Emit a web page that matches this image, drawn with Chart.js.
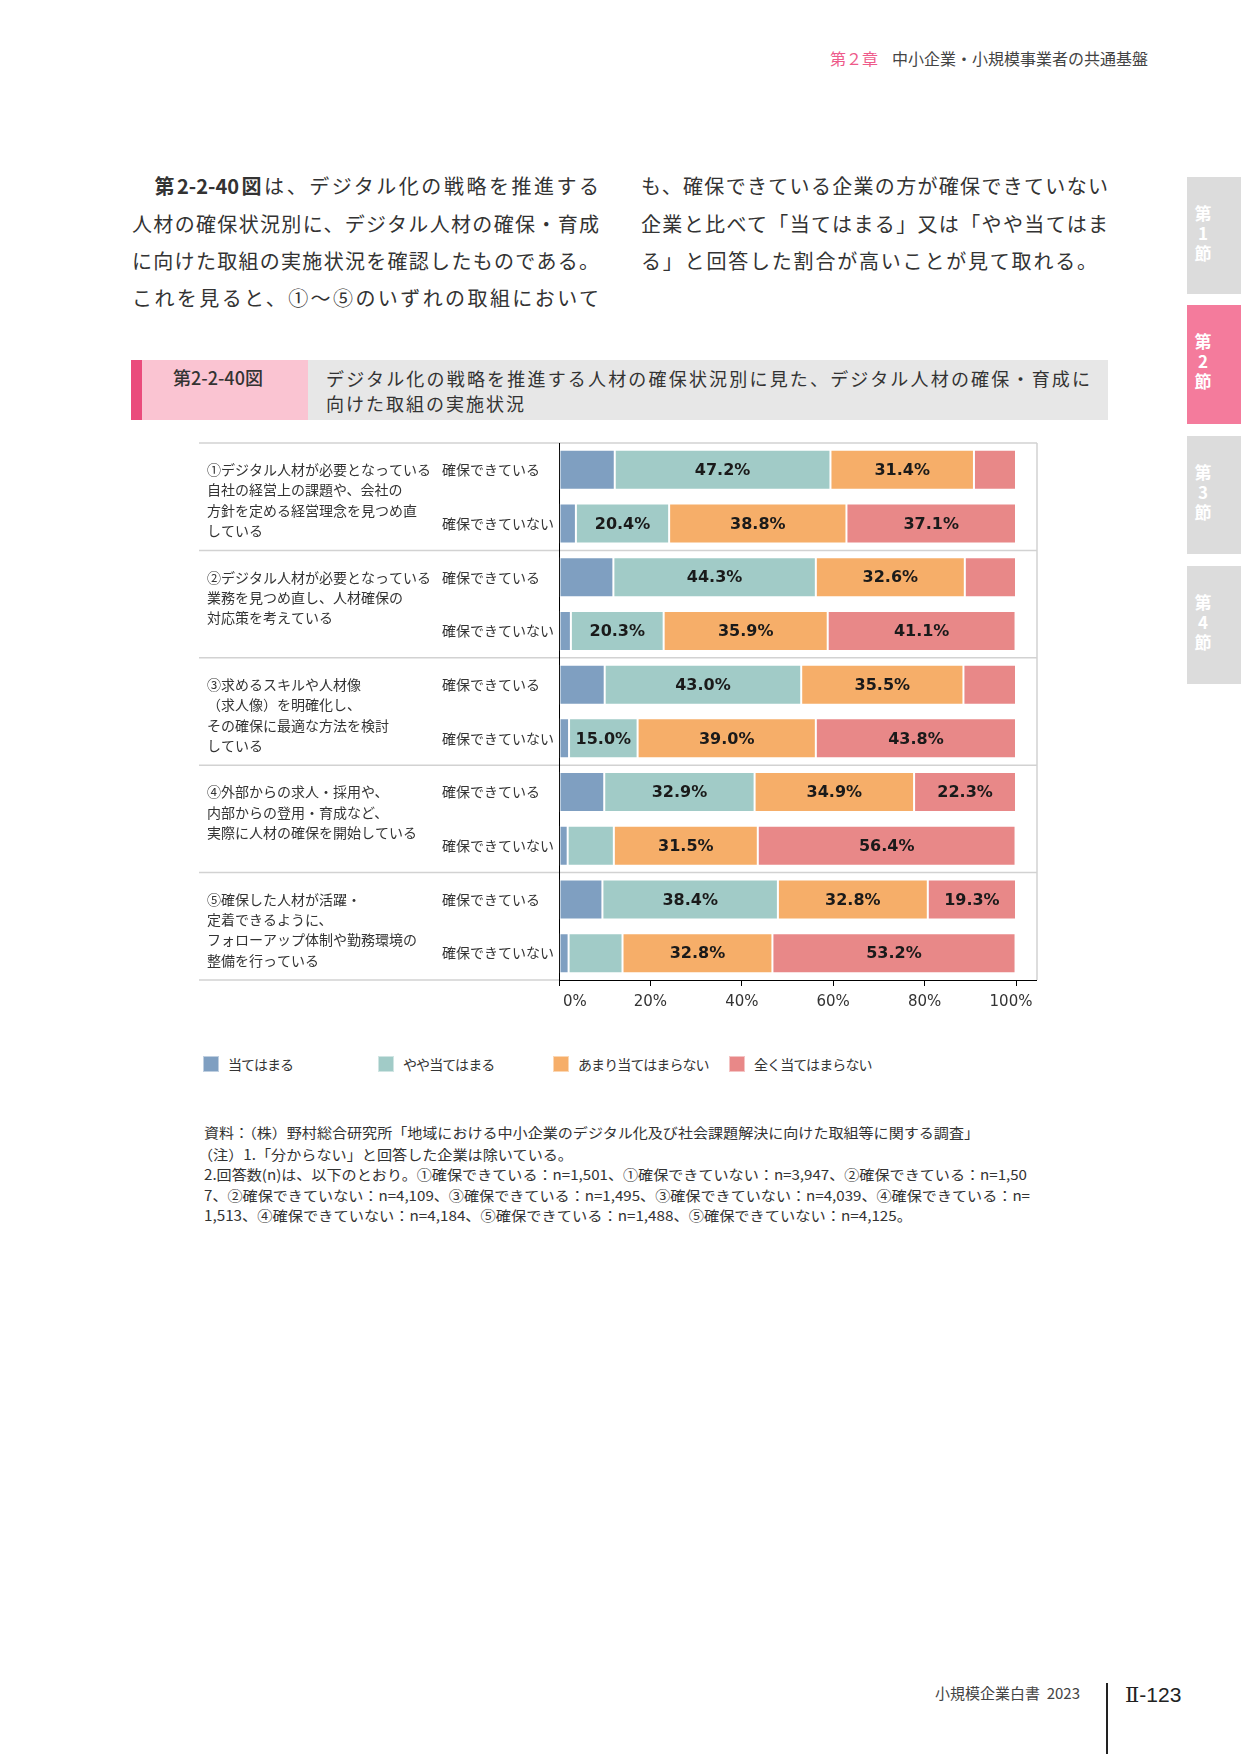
<!DOCTYPE html>
<html>
<head>
<meta charset="utf-8">
<script src="https://cdn.jsdelivr.net/npm/chart.js@4.4.0/dist/chart.umd.min.js"></script>
<style>
body { margin:0; width:1241px; height:1754px; position:relative; background:#fff; overflow:hidden;
  font-family:"Noto Sans CJK JP", sans-serif; color:#333; }
.t { position:absolute; white-space:nowrap; }
.body { font-size:20px; line-height:28px; height:28px; text-align:justify; text-align-last:justify; }
.tab { position:absolute; left:1187px; width:54px; background:#dcdcdc; }
.tab span { position:absolute; left:0; width:32px; text-align:center; color:#fff; font-weight:700;
  font-size:17px; line-height:20px; top:26px; }
.note { font-size:14px; line-height:20px; transform-origin:0 50%; }
#legend .item { position:absolute; top:0; height:18px; font-size:14px; line-height:18px; color:#333;
  white-space:nowrap; letter-spacing:-0.9px; }
#legend .box { display:inline-block; width:16px; height:16px; vertical-align:top; margin-top:1px; margin-right:9px;
  box-sizing:border-box; border:1px solid rgba(255,255,255,0.5); }
</style>
</head>
<body>

<div class="t" style="left:830px;top:46px;font-size:16px;color:#ee5a8a;">第２章</div>
<div class="t" style="left:892px;top:46px;font-size:16px;color:#444;">中小企業・小規模事業者の共通基盤</div>

<div class="t body" style="left:132px;top:172px;width:467px;">　<b>第2-2-40図</b>は、デジタル化の戦略を推進する</div>
<div class="t body" style="left:132px;top:210px;width:467px;">人材の確保状況別に、デジタル人材の確保・育成</div>
<div class="t body" style="left:132px;top:247px;width:467px;">に向けた取組の実施状況を確認したものである。</div>
<div class="t body" style="left:132px;top:284px;width:467px;">これを見ると、①～⑤のいずれの取組において</div>
<div class="t body" style="left:641px;top:172px;width:467px;">も、確保できている企業の方が確保できていない</div>
<div class="t body" style="left:641px;top:210px;width:467px;">企業と比べて「当てはまる」又は「やや当てはま</div>
<div class="t" style="left:641px;top:247px;font-size:20px;line-height:28px;letter-spacing:1.8px;">る」と回答した割合が高いことが見て取れる。</div>

<div class="tab" style="top:177px;height:117px;"><span>第<br>1<br>節</span></div>
<div class="tab" style="top:305px;height:119px;background:#f47b9c;"><span>第<br>2<br>節</span></div>
<div class="tab" style="top:436px;height:118px;"><span>第<br>3<br>節</span></div>
<div class="tab" style="top:566px;height:118px;"><span>第<br>4<br>節</span></div>

<div style="position:absolute;left:131px;top:360px;width:977px;height:60px;background:#e7e7e7;"></div>
<div style="position:absolute;left:131px;top:360px;width:11px;height:60px;background:#ea4b7c;"></div>
<div style="position:absolute;left:142px;top:360px;width:166px;height:60px;background:#fac4d2;"></div>
<div class="t" style="left:173px;top:365px;font-size:18px;line-height:24px;font-weight:500;">第2-2-40図</div>
<div class="t" style="left:326px;top:366px;width:764px;font-size:18px;line-height:24px;text-align:justify;text-align-last:justify;">デジタル化の戦略を推進する人材の確保状況別に見た、デジタル人材の確保・育成に</div>
<div class="t" style="left:326px;top:391px;font-size:18px;line-height:24px;letter-spacing:2px;">向けた取組の実施状況</div>

<div style="position:absolute;left:190px;top:430px;width:860px;height:600px;">
  <canvas id="chart" width="860" height="600"></canvas>
</div>
<div id="legend" style="position:absolute;left:0;top:1055px;width:1241px;height:20px;"></div>

<div class="t note" data-w="775" style="left:204px;top:1122px;">資料：（株）野村総合研究所「地域における中小企業のデジタル化及び社会課題解決に向けた取組等に関する調査」</div>
<div class="t note" data-w="375" style="left:198px;top:1144px;">（注）1.「分からない」と回答した企業は除いている。</div>
<div class="t note" data-w="823" style="left:204px;top:1164px;">2.回答数(n)は、以下のとおり。①確保できている：n=1,501、①確保できていない：n=3,947、②確保できている：n=1,50</div>
<div class="t note" data-w="826" style="left:204px;top:1185px;">7、②確保できていない：n=4,109、③確保できている：n=1,495、③確保できていない：n=4,039、④確保できている：n=</div>
<div class="t note" data-w="708" style="left:204px;top:1205px;">1,513、④確保できていない：n=4,184、⑤確保できている：n=1,488、⑤確保できていない：n=4,125。</div>

<div class="t" style="left:935px;top:1682px;font-size:15px;line-height:22px;color:#444;">小規模企業白書&nbsp;&nbsp;2023</div>
<div style="position:absolute;left:1106px;top:1683px;width:2px;height:71px;background:#222;"></div>
<div class="t" style="left:1125px;top:1679px;font-size:21px;line-height:28px;color:#222;"><span style="font-family:'DejaVu Serif',serif;">Ⅱ</span><span style="font-family:'Liberation Sans',sans-serif;">-123</span></div>

<script>
var categories = ["確保できている", "確保できていない", "確保できている", "確保できていない",
    "確保できている", "確保できていない", "確保できている", "確保できていない",
    "確保できている", "確保できていない"];
var groupLabels = [
    ["①デジタル人材が必要となっている", "自社の経営上の課題や、会社の", "方針を定める経営理念を見つめ直", "している"],
    ["②デジタル人材が必要となっている", "業務を見つめ直し、人材確保の", "対応策を考えている"],
    ["③求めるスキルや人材像", "（求人像）を明確化し、", "その確保に最適な方法を検討", "している"],
    ["④外部からの求人・採用や、", "内部からの登用・育成など、", "実際に人材の確保を開始している"],
    ["⑤確保した人材が活躍・", "定着できるように、", "フォローアップ体制や勤務環境の", "整備を行っている"]
];
var seriesNames = ["当てはまる", "やや当てはまる", "あまり当てはまらない", "全く当てはまらない"];
var applies = [12.2, 3.7, 11.9, 2.6, 10.0, 2.2, 9.9, 1.9, 9.5, 2.1];
var somewhat = [47.2, 20.4, 44.3, 20.3, 43.0, 15.0, 32.9, 10.1, 38.4, 11.8];
var notMuch = [31.4, 38.8, 32.6, 35.9, 35.5, 39.0, 34.9, 31.5, 32.8, 32.8];
var notAtAll = [9.2, 37.1, 11.2, 41.1, 11.5, 43.8, 22.3, 56.4, 19.3, 53.2];
var colors = ["#7f9fc1", "#a1cbc7", "#f6ae69", "#e88888"];
var labelMin = 13;

// fit the notes lines to the widths they have in the print
document.querySelectorAll('.note').forEach(function(el) {
    var w = el.getBoundingClientRect().width;
    el.style.transform = 'scaleX(' + (parseFloat(el.dataset.w) / w) + ')';
});

var decor = {
    id: 'decor',
    beforeDraw: function(chart) {
        var ctx = chart.ctx, a = chart.chartArea, y = chart.scales.y;
        var left = 9, right = a.right + 21;
        ctx.save();
        ctx.strokeStyle = '#d2d2d2';
        ctx.lineWidth = 1.5;
        ctx.beginPath();
        ctx.moveTo(left, a.top); ctx.lineTo(right, a.top);
        ctx.moveTo(right, a.top); ctx.lineTo(right, a.bottom);
        ctx.moveTo(left, a.bottom); ctx.lineTo(a.left, a.bottom);
        for (var i = 1; i < categories.length - 1; i += 2) {
            var yy = (y.getPixelForValue(i) + y.getPixelForValue(i + 1)) / 2;
            ctx.moveTo(left, yy); ctx.lineTo(right, yy);
        }
        ctx.stroke();
        ctx.strokeStyle = '#000';
        ctx.lineWidth = 1;
        ctx.beginPath();
        ctx.moveTo(a.right, a.bottom + 0.5); ctx.lineTo(right, a.bottom + 0.5);
        ctx.stroke();
        ctx.restore();
    },
    afterDraw: function(chart) {
        var ctx = chart.ctx, x = chart.scales.x, y = chart.scales.y;
        ctx.save();
        ctx.textAlign = 'center';
        ctx.textBaseline = 'middle';
        ctx.fillStyle = '#1a1a1a';
        ctx.font = 'bold 16px "DejaVu Sans"';
        chart.data.datasets.forEach(function(ds, di) {
            chart.getDatasetMeta(di).data.forEach(function(bar, i) {
                var v = ds.data[i];
                if (v < labelMin) return;
                ctx.fillText(v.toFixed(1) + '%', (bar.x + bar.base) / 2, bar.y + 1);
            });
        });
        // x tick labels: the end labels sit inside the axis like in the print
        ctx.fillStyle = '#333';
        ctx.font = '15px "DejaVu Sans"';
        ctx.textBaseline = 'top';
        x.ticks.forEach(function(t, i) {
            var px = x.getPixelForValue(t.value);
            if (i === 0) { ctx.textAlign = 'left'; px += 4; }
            else if (i === x.ticks.length - 1) { ctx.textAlign = 'center'; px -= 5; }
            else ctx.textAlign = 'center';
            ctx.fillText(t.value + '%', px, x.top + 15);
        });
        ctx.textBaseline = 'middle';
        ctx.textAlign = 'left';
        ctx.font = '14px "Noto Sans CJK JP"';
        groupLabels.forEach(function(lines, g) {
            var y0 = y.getPixelForValue(g * 2);
            lines.forEach(function(s, k) {
                ctx.fillText(s, 17, y0 + k * 20.3);
            });
        });
        ctx.restore();
    }
};

var chart = new Chart(document.getElementById('chart'), {
    type: 'bar',
    data: {
        labels: categories,
        datasets: [
            { label: seriesNames[0], data: applies, backgroundColor: colors[0] },
            { label: seriesNames[1], data: somewhat, backgroundColor: colors[1] },
            { label: seriesNames[2], data: notMuch, backgroundColor: colors[2] },
            { label: seriesNames[3], data: notAtAll, backgroundColor: colors[3] }
        ]
    },
    options: {
        indexAxis: 'y',
        responsive: false,
        animation: false,
        devicePixelRatio: 1,
        datasets: { bar: { categoryPercentage: 1, barPercentage: 0.745, borderWidth: 1,
            borderColor: 'rgba(255,255,255,0.35)', borderSkipped: false } },
        layout: { padding: { left: 252, top: 13, right: 34, bottom: 20 } },
        plugins: { legend: { display: false }, tooltip: { enabled: false } },
        scales: {
            x: {
                stacked: true, min: 0, max: 100,
                ticks: { stepSize: 20, color: 'rgba(0,0,0,0)', font: { family: 'DejaVu Sans', size: 15 } },
                grid: { drawOnChartArea: false, drawTicks: true, tickLength: 6, color: '#000' },
                border: { color: '#000', width: 1 },
                afterFit: function(s) { s.height = 30; s.paddingLeft = 0; s.paddingRight = 0; }
            },
            y: {
                stacked: true,
                ticks: { crossAlign: 'far', color: '#333', font: { family: 'Noto Sans CJK JP', size: 14 } },
                grid: { display: false, drawTicks: false },
                border: { color: '#000', width: 1 },
                afterFit: function(s) { s.width = 117; s.paddingTop = 0; s.paddingBottom = 0; }
            }
        }
    },
    plugins: [decor]
});

// legend built from the chart's datasets
var legendX = [203, 378, 553, 729];
var legend = document.getElementById('legend');
chart.data.datasets.forEach(function(ds, i) {
    var item = document.createElement('div');
    item.className = 'item';
    item.style.left = legendX[i] + 'px';
    item.innerHTML = '<span class="box" style="background:' + ds.backgroundColor + '"></span>' + ds.label;
    legend.appendChild(item);
});
</script>
</body>
</html>
